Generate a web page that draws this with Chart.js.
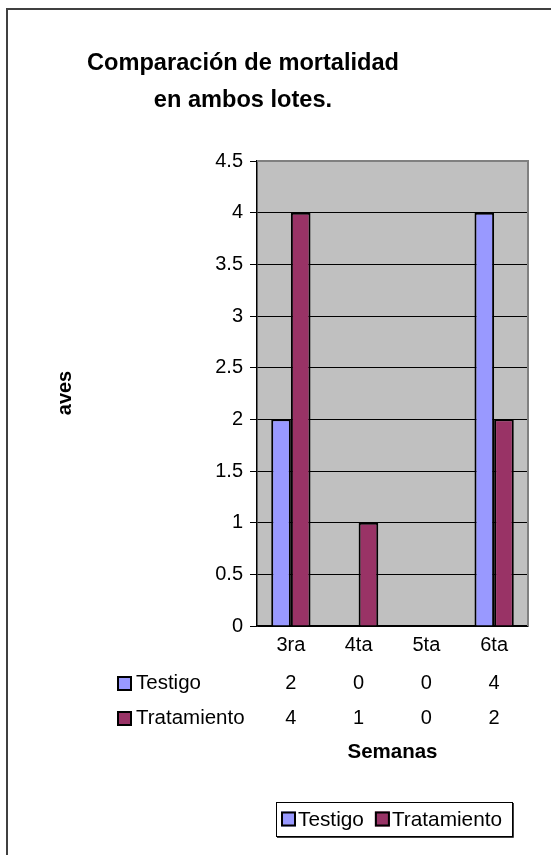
<!DOCTYPE html>
<html><head><meta charset="utf-8">
<script src="https://cdn.jsdelivr.net/npm/chart.js@4.4.1/dist/chart.umd.min.js"></script>
<style>html,body{margin:0;padding:0;background:#fff;} canvas{display:block;}</style>
</head><body>
<canvas id="c" width="551" height="855" style="width:551px;height:855px"></canvas>
<script>
const categories = ['3ra', '4ta', '5ta', '6ta'];
const testigo = [2, 0, 0, 4];
const tratamiento = [4, 1, 0, 2];
const yTicks = [0, 0.5, 1, 1.5, 2, 2.5, 3, 3.5, 4, 4.5];
const yTickLabels = ['0', '0.5', '1', '1.5', '2', '2.5', '3', '3.5', '4', '4.5'];
const seriesNames = ['Testigo', 'Tratamiento'];
const seriesColors = ['#9999FF', '#993366'];
const titleLines = ['Comparación de mortalidad', 'en ambos lotes.'];
const yTitle = 'aves';
const xTitle = 'Semanas';

const FONT = "'Liberation Sans', Arial, sans-serif";

function drawKey(ctx, x, y, color) {
  ctx.fillStyle = color;
  ctx.fillRect(x, y, 15, 15);
  ctx.strokeStyle = '#000';
  ctx.lineWidth = 2;
  ctx.strokeRect(x + 1, y + 1, 13, 13);
}

const extras = {
  id: 'extras',
  beforeDraw(chart) {
    const { ctx, chartArea: a } = chart;
    ctx.save();
    ctx.fillStyle = '#fff';
    ctx.fillRect(0, 0, chart.width, chart.height);
    ctx.fillStyle = '#C0C0C0';
    ctx.fillRect(a.left, a.top, a.right - a.left, a.bottom - a.top);
    ctx.restore();
  },
  afterDraw(chart) {
    const { ctx, chartArea: a } = chart;
    const x = chart.scales.x;
    ctx.save();
    ctx.strokeStyle = '#808080';
    ctx.lineWidth = 2;
    ctx.beginPath();
    ctx.moveTo(a.left, a.top);
    ctx.lineTo(a.right, a.top);
    ctx.lineTo(a.right, a.bottom);
    ctx.stroke();

    ctx.strokeStyle = '#404040';
    ctx.lineWidth = 2;
    ctx.beginPath();
    ctx.moveTo(7, chart.height);
    ctx.lineTo(7, 9);
    ctx.lineTo(chart.width, 9);
    ctx.stroke();

    ctx.fillStyle = '#000';
    ctx.textAlign = 'center';
    ctx.textBaseline = 'middle';
    ctx.font = `bold 23.6px ${FONT}`;
    titleLines.forEach((t, i) => ctx.fillText(t, 243, 63 + i * 37));

    ctx.font = `bold 20px ${FONT}`;
    ctx.save();
    ctx.translate(65, 393);
    ctx.rotate(-Math.PI / 2);
    ctx.fillText(yTitle, 0, 0);
    ctx.restore();

    const rows = [testigo, tratamiento];
    const rowY = [683, 718];
    rows.forEach((r, ri) => {
      const y = rowY[ri];
      drawKey(ctx, 117, y - 7, seriesColors[ri]);
      ctx.fillStyle = '#000';
      ctx.font = `20.5px ${FONT}`;
      ctx.textAlign = 'left';
      ctx.fillText(seriesNames[ri], 136, y);
      ctx.font = `20px ${FONT}`;
      ctx.textAlign = 'center';
      r.forEach((v, i) => ctx.fillText(String(v), x.getPixelForValue(i), y));
    });

    ctx.font = `bold 20.5px ${FONT}`;
    ctx.fillText(xTitle, (a.left + a.right) / 2, 752);

    // legend
    ctx.font = `20.8px ${FONT}`;
    const w1 = ctx.measureText(seriesNames[0]).width;
    const w2 = ctx.measureText(seriesNames[1]).width;
    const padL = 5, key = 15, g = 2, sep = 11, padR = 10;
    const right = 512, top = 802, h = 34;
    const left = Math.round(right - (padL + key + g + w1 + sep + key + g + w2 + padR));
    ctx.fillStyle = '#fff';
    ctx.fillRect(left, top, right - left, h);
    ctx.strokeStyle = '#000';
    ctx.lineWidth = 1;
    ctx.strokeRect(left + 0.5, top + 0.5, right - left, h);
    ctx.strokeStyle = '#404040';
    ctx.lineWidth = 1;
    ctx.beginPath();
    ctx.moveTo(left + 1, top + h + 1.5);
    ctx.lineTo(right + 1.5, top + h + 1.5);
    ctx.lineTo(right + 1.5, top + 1);
    ctx.stroke();
    let cx = left + padL;
    const cy = top + h / 2;
    ctx.textAlign = 'left';
    [w1, w2].forEach((w, i) => {
      drawKey(ctx, cx, cy - 7.5, seriesColors[i]);
      cx += key + g;
      ctx.fillStyle = '#000';
      ctx.fillText(seriesNames[i], cx, cy + 1);
      cx += w + sep;
    });
    ctx.restore();
  }
};

new Chart(document.getElementById('c'), {
  type: 'bar',
  data: {
    labels: categories,
    datasets: [
      { label: seriesNames[0], data: testigo, backgroundColor: seriesColors[0], borderColor: '#000', borderWidth: 2 },
      { label: seriesNames[1], data: tratamiento, backgroundColor: seriesColors[1], borderColor: '#000', borderWidth: 2 }
    ]
  },
  options: {
    responsive: false,
    animation: false,
    devicePixelRatio: 1,
    layout: { padding: { top: 161, right: 23, left: 0, bottom: 0 } },
    datasets: { bar: { categoryPercentage: 0.58, barPercentage: 1 } },
    plugins: { legend: { display: false }, title: { display: false }, tooltip: { enabled: false } },
    scales: {
      x: {
        grid: { display: false, drawTicks: true, tickLength: 7 },
        border: { display: true, color: '#000', width: 1.5 },
        ticks: { padding: 0, color: '#000', font: { family: FONT, size: 20 }, maxRotation: 0 },
        afterFit(s) { s.height = 229; }
      },
      y: {
        min: 0, max: 4.5,
        afterBuildTicks(s) { s.ticks = yTicks.map(v => ({ value: v })); },
        grid: { color: '#000', lineWidth: 1, tickLength: 7 },
        border: { display: true, color: '#000', width: 1.5 },
        ticks: {
          padding: 7, color: '#000', font: { family: FONT, size: 20 },
          callback(value) { const i = yTicks.indexOf(value); return i >= 0 ? yTickLabels[i] : ''; }
        },
        afterFit(s) { s.width = 257; }
      }
    }
  },
  plugins: [extras]
});
</script>
</body></html>
